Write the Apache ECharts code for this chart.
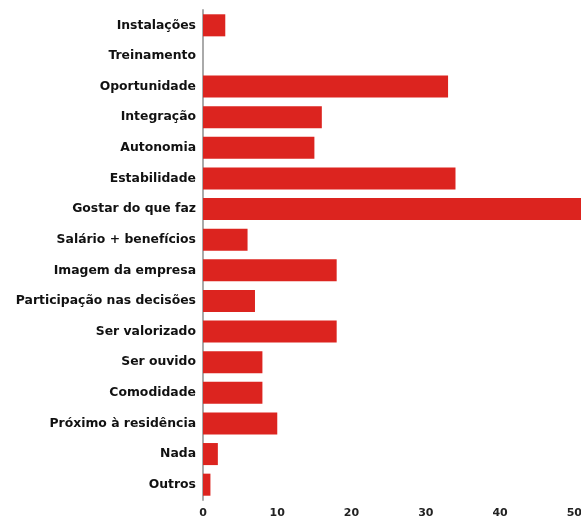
<!DOCTYPE html>
<html><head><meta charset="utf-8">
<script src="https://cdn.jsdelivr.net/npm/echarts@6/dist/echarts.min.js"></script>
<style>html,body{margin:0;padding:0;background:#fff}#c{width:581px;height:516px}</style>
</head><body><div id="c"></div>
<script>
const categories = ["Instalações","Treinamento","Oportunidade","Integração","Autonomia","Estabilidade","Gostar do que faz","Salário + benefícios","Imagem da empresa","Participação nas decisões","Ser valorizado","Ser ouvido","Comodidade","Próximo à residência","Nada","Outros"];
const values = [3,0,33,16,15,34,53,6,18,7,18,8,8,10,2,1];
const xTicks = [0,10,20,30,40,50];

const chart = echarts.init(document.getElementById('c'), null, {renderer:'canvas'});
chart.setOption({
  animation:false,
  grid:{left:203, top:10, bottom:16, right:0, containLabel:false, outerBoundsMode:'none'},
  xAxis:{type:'value', min:xTicks[0], max:50.9, interval:10,
    axisLine:{show:false}, axisTick:{show:false}, splitLine:{show:false},
    axisLabel:{color:'#222', fontFamily:'DejaVu Sans', fontWeight:'bold', fontSize:11, margin:8,
      formatter: v => (xTicks.indexOf(v) >= 0 ? String(v) : '')}},
  yAxis:{type:'category', data:categories, inverse:true,
    axisLine:{show:true, lineStyle:{color:'#aaa', width:2}}, axisTick:{show:false},
    axisLabel:{color:'#111', fontFamily:'DejaVu Sans', fontWeight:'bold', fontSize:12.4, margin:7}},
  series:[{type:'bar', data:values, barCategoryGap:'28%', itemStyle:{color:'#dc241f'}}]
});
</script></body></html>
